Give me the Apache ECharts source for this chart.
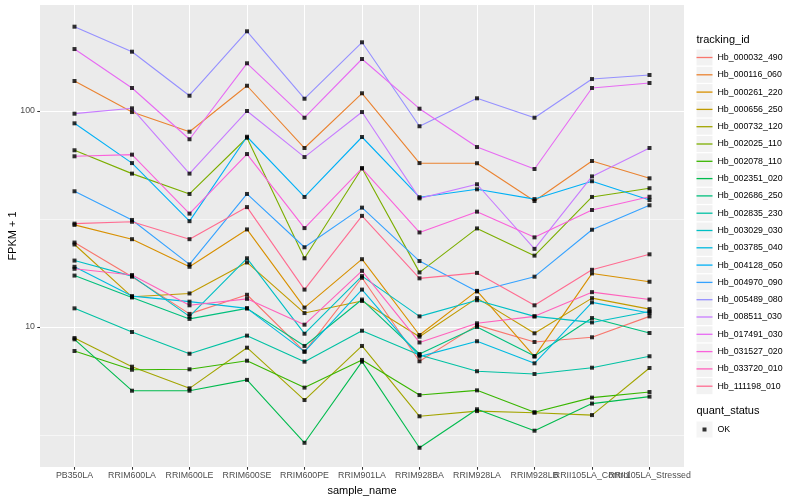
<!DOCTYPE html>
<html><head><meta charset="utf-8">
<script src="https://cdn.jsdelivr.net/npm/echarts@6/dist/echarts.min.js"></script>
<style>html,body{margin:0;padding:0;background:#fff}#c{width:800px;height:500px}</style>
</head><body><div id="c"></div>
<script>
const categories = ['PB350LA','RRIM600LA','RRIM600LE','RRIM600SE','RRIM600PE','RRIM901LA','RRIM928BA','RRIM928LA','RRIM928LB','RRII105LA_Control','RRII105LA_Stressed'];
const trackingIds = ['Hb_000032_490','Hb_000116_060','Hb_000261_220','Hb_000656_250','Hb_000732_120','Hb_002025_110','Hb_002078_110','Hb_002351_020','Hb_002686_250','Hb_002835_230','Hb_003029_030','Hb_003785_040','Hb_004128_050','Hb_004970_090','Hb_005489_080','Hb_008511_030','Hb_017491_030','Hb_031527_020','Hb_033720_010','Hb_111198_010'];
const colors = ['#F8766D','#EA8331','#D89000','#C09B00','#A3A500','#7CAE00','#39B600','#00BB4E','#00BF7D','#00C1A3','#00BFC4','#00BAE0','#00B0F6','#35A2FF','#9590FF','#C77CFF','#E76BF3','#FA62DB','#FF62BC','#FF6C91'];
const yTicks = [10, 100];
const yMinorGrid = [3.1623, 31.623];

// FPKM + 1 values, one array per tracking_id, in category order
const Hb_000032_490 = [24.6, 17.1, 11.5, 14.1, 7.69, 16.9, 6.94, 10.2, 8.52, 8.96, 11.2];
const Hb_000116_060 = [137.7, 98.9, 80.2, 130.9, 67.4, 120.8, 57.4, 57.3, 38.3, 58.7, 48.8];
const Hb_000261_220 = [29.7, 25.5, 19.0, 28.3, 12.3, 20.6, 9.18, 14.7, 7.29, 17.7, 16.2];
const Hb_000656_250 = [24.1, 13.8, 14.3, 19.9, 11.6, 13.2, 9.02, 13.6, 9.35, 13.6, 12.1];
const Hb_000732_120 = [8.89, 6.55, 5.20, 8.02, 4.59, 8.17, 3.86, 4.08, 4.01, 3.91, 6.46];
const Hb_002025_110 = [65.8, 51.3, 41.3, 75.2, 20.8, 54.3, 17.9, 28.6, 21.4, 40.0, 43.9];
const Hb_002078_110 = [7.74, 6.34, 6.37, 6.98, 5.24, 7.04, 4.84, 5.09, 4.03, 4.71, 5.00];
const Hb_002351_020 = [8.77, 5.07, 5.07, 5.69, 2.91, 6.91, 2.76, 4.16, 3.31, 4.42, 4.76];
const Hb_002686_250 = [17.3, 13.7, 10.9, 12.2, 8.17, 13.4, 7.50, 10.0, 7.34, 11.0, 9.38];
const Hb_002835_230 = [12.2, 9.48, 7.52, 9.12, 6.91, 9.61, 7.42, 6.24, 6.06, 6.48, 7.32];
const Hb_003029_030 = [20.3, 17.2, 11.2, 20.8, 9.31, 17.2, 11.2, 13.3, 11.2, 10.5, 11.8];
const Hb_003785_040 = [19.0, 13.9, 13.1, 12.2, 7.69, 14.9, 7.29, 8.59, 6.79, 13.0, 11.6];
const Hb_004128_050 = [87.7, 57.4, 30.9, 76.0, 40.0, 75.8, 39.9, 43.4, 39.1, 47.3, 38.7];
const Hb_004970_090 = [42.5, 31.3, 19.5, 41.3, 23.4, 35.7, 20.2, 14.6, 17.1, 28.2, 36.6];
const Hb_005489_080 = [245.7, 188.2, 117.7, 233.9, 114.0, 208.0, 85.0, 114.5, 93.1, 140.6, 146.8];
const Hb_008511_030 = [97.2, 102.9, 51.3, 100.0, 61.2, 98.9, 39.4, 45.8, 23.0, 49.8, 67.4];
const Hb_017491_030 = [193.6, 127.8, 74.0, 166.3, 93.1, 174.1, 102.5, 68.1, 53.9, 127.8, 134.8];
const Hb_031527_020 = [61.7, 62.8, 33.5, 63.2, 28.7, 54.3, 27.4, 34.2, 26.0, 34.8, 40.1];
const Hb_033720_010 = [18.6, 17.4, 12.6, 13.5, 10.25, 18.2, 8.48, 10.4, 11.2, 14.5, 13.4];
const Hb_111198_010 = [30.1, 30.7, 25.5, 35.9, 14.9, 32.7, 16.8, 17.8, 12.6, 18.4, 21.7];

const seriesValues = [Hb_000032_490, Hb_000116_060, Hb_000261_220, Hb_000656_250, Hb_000732_120, Hb_002025_110, Hb_002078_110, Hb_002351_020, Hb_002686_250, Hb_002835_230, Hb_003029_030, Hb_003785_040, Hb_004128_050, Hb_004970_090, Hb_005489_080, Hb_008511_030, Hb_017491_030, Hb_031527_020, Hb_033720_010, Hb_111198_010];

const FONT = '"Liberation Sans", Arial, Helvetica, sans-serif';
const catIdx = categories.map((c, i) => i);
// labels split over two axes so that the two overlapping labels at the end both show
const labelsA = catIdx.filter(i => i % 2 === 0);
const labelsB = catIdx.filter(i => i % 2 === 1);

const lineSeries = trackingIds.map((id, k) => {
  const s = {
    type: 'line', name: id,
    data: seriesValues[k].map((v, i) => [i, v]),
    symbol: 'none',
    lineStyle: { color: colors[k], width: 1.1 },
    itemStyle: { color: colors[k] },
    z: 2, silent: true
  };
  if (k === 0) {
    s.markLine = {
      silent: true, symbol: 'none', z: 1,
      label: { show: false },
      lineStyle: { color: '#FFFFFF', width: 0.55, type: 'solid' },
      emphasis: { disabled: true },
      data: yMinorGrid.map(v => ({ yAxis: v }))
    };
  }
  return s;
});

const pointData = [];
seriesValues.forEach(arr => arr.forEach((v, i) => pointData.push([i, v])));

const pointSeries = {
  type: 'scatter', name: 'OK', data: pointData,
  symbol: 'rect', symbolSize: 4,
  itemStyle: { color: '#000000' }, z: 3, silent: true
};

const legendBase = {
  orient: 'vertical', left: 696.5, itemWidth: 16, itemHeight: 16, itemGap: 1.3,
  selectedMode: false, padding: 0,
  textStyle: { fontSize: 8.8, color: '#000', fontFamily: FONT }
};

const labelStyle = { formatter: v => categories[Math.round(v)], color: '#4D4D4D', fontSize: 8.8, margin: 4.5, fontFamily: FONT, showMinLabel: true, showMaxLabel: true, hideOverlap: false };

const option = {
  animation: false,
  backgroundColor: '#FFFFFF',
  textStyle: { fontFamily: FONT },
  title: [
    { text: 'tracking_id', left: 696.5, top: 34, padding: 0, textStyle: { fontSize: 11, fontWeight: 'normal', color: '#000', fontFamily: FONT } },
    { text: 'quant_status', left: 696.5, top: 405.5, padding: 0, textStyle: { fontSize: 11, fontWeight: 'normal', color: '#000', fontFamily: FONT } }
  ],
  legend: [
    Object.assign({}, legendBase, { data: trackingIds, top: 49.5, icon: 'rect', itemStyle: { color: '#F2F2F2' }, formatter: () => '', z: 3 }),
    Object.assign({}, legendBase, { data: trackingIds, top: 49.5, icon: 'path://M0,0M16,16M0,7.35h16v1.3h-16Z', z: 4 }),
    Object.assign({}, legendBase, { data: ['OK'], top: 421.5, icon: 'rect', itemStyle: { color: '#F2F2F2' }, formatter: () => '', z: 3 }),
    Object.assign({}, legendBase, { data: ['OK'], top: 421.5, icon: 'path://M0,0M16,16M6,6h4v4h-4Z', z: 4 })
  ],
  grid: { left: 40, top: 5, width: 644, height: 462, show: true, backgroundColor: '#EBEBEB', borderWidth: 0, containLabel: false, outerBoundsMode: 'none' },
  xAxis: [
    {
      type: 'value', min: -0.6, max: 10.6, position: 'bottom',
      axisLine: { show: false, onZero: false },
      axisTick: { show: true, customValues: catIdx, length: 2.75, lineStyle: { color: '#333333', width: 1.07 } },
      axisLabel: Object.assign({ customValues: labelsA }, labelStyle),
      splitLine: { show: true, lineStyle: { color: '#FFFFFF', width: 1.07 } },
      name: 'sample_name', nameLocation: 'middle', nameGap: 14,
      nameTextStyle: { fontSize: 11, color: '#000', fontFamily: FONT }
    },
    {
      type: 'value', min: -0.6, max: 10.6, position: 'bottom', offset: 0,
      axisLine: { show: false, onZero: false },
      axisTick: { show: false },
      axisLabel: Object.assign({ customValues: labelsB }, labelStyle),
      splitLine: { show: false }
    }
  ],
  yAxis: {
    type: 'log', logBase: 10, min: 2.248, max: 309.6,
    axisLine: { show: false, onZero: false },
    axisTick: { show: true, customValues: yTicks, length: 2.75, lineStyle: { color: '#333333', width: 1.07 } },
    axisLabel: { customValues: yTicks, color: '#4D4D4D', fontSize: 8.8, margin: 5, fontFamily: FONT, showMinLabel: true, showMaxLabel: true },
    splitLine: { show: true, lineStyle: { color: '#FFFFFF', width: 1.07 } },
    minorSplitLine: { show: false },
    name: 'FPKM + 1', nameLocation: 'middle', nameGap: 22, nameMoveOverlap: false,
    nameTextStyle: { fontSize: 11, color: '#000', fontFamily: FONT }
  },
  series: lineSeries.concat([pointSeries])
};

const chart = echarts.init(document.getElementById('c'), null, { renderer: 'canvas' });
chart.setOption(option);
</script>
</body></html>
